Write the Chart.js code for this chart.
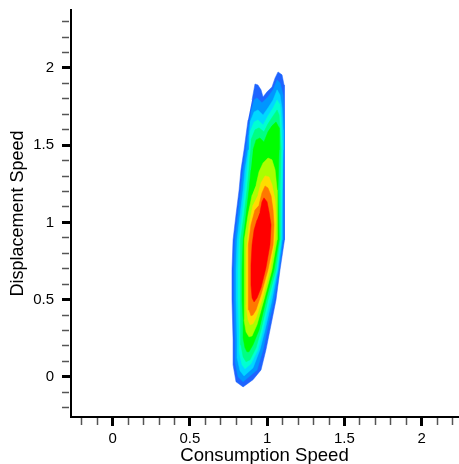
<!DOCTYPE html>
<html>
<head>
<meta charset="utf-8">
<script src="https://cdn.jsdelivr.net/npm/chart.js@4.4.1/dist/chart.umd.min.js"></script>
<style>
  html, body { margin: 0; padding: 0; background: #fff; }
  canvas { display: block; }
</style>
</head>
<body>
<canvas id="grafico" width="459" height="464"></canvas>
<script>
// contour levels of the joint pdf, outermost first
// x = consumption speed, y = displacement speed
var level1X = [0.902, 0.921, 0.940, 0.960, 0.973, 0.999, 1.031, 1.051, 1.070, 1.096, 1.109, 1.115, 1.115, 1.109, 1.109, 1.083, 1.057, 1.018, 0.992, 0.960, 0.908, 0.844, 0.798, 0.779, 0.779, 0.772, 0.772, 0.779, 0.798, 0.818, 0.830, 0.850, 0.876];
var level1Y = [1.793, 1.896, 1.890, 1.858, 1.812, 1.845, 1.877, 1.935, 1.974, 1.955, 1.890, 1.728, 1.469, 1.210, 0.887, 0.693, 0.498, 0.304, 0.175, 0.045, -0.019, -0.065, -0.032, 0.078, 0.239, 0.498, 0.693, 0.887, 1.049, 1.210, 1.340, 1.469, 1.663];

var level2X = [0.895, 0.915, 0.934, 0.966, 1.005, 1.038, 1.064, 1.083, 1.103, 1.109, 1.109, 1.103, 1.103, 1.077, 1.044, 0.999, 0.973, 0.934, 0.844, 0.811, 0.792, 0.792, 0.785, 0.785, 0.792, 0.811, 0.830, 0.844, 0.863, 0.882];
var level2Y = [1.715, 1.793, 1.806, 1.774, 1.812, 1.858, 1.922, 1.903, 1.825, 1.663, 1.469, 1.210, 0.887, 0.693, 0.498, 0.304, 0.175, 0.045, -0.032, 0.000, 0.097, 0.239, 0.498, 0.693, 0.887, 1.049, 1.210, 1.340, 1.469, 1.631];

var level3X = [0.889, 0.915, 0.940, 0.973, 1.005, 1.038, 1.064, 1.083, 1.096, 1.103, 1.103, 1.096, 1.096, 1.070, 1.031, 0.986, 0.953, 0.908, 0.850, 0.824, 0.805, 0.805, 0.798, 0.798, 0.805, 0.824, 0.844, 0.856, 0.876, 0.882];
var level3Y = [1.650, 1.715, 1.728, 1.696, 1.741, 1.793, 1.858, 1.825, 1.741, 1.599, 1.469, 1.210, 0.887, 0.693, 0.498, 0.304, 0.175, 0.058, 0.006, 0.039, 0.123, 0.239, 0.498, 0.693, 0.887, 1.049, 1.210, 1.340, 1.469, 1.566];

var level4X = [0.889, 0.915, 0.940, 0.973, 1.005, 1.038, 1.064, 1.083, 1.090, 1.096, 1.096, 1.090, 1.064, 1.018, 0.973, 0.940, 0.895, 0.856, 0.837, 0.818, 0.818, 0.811, 0.811, 0.818, 0.837, 0.856, 0.869, 0.882];
var level4Y = [1.586, 1.650, 1.663, 1.631, 1.689, 1.741, 1.793, 1.761, 1.677, 1.534, 1.210, 0.887, 0.693, 0.498, 0.304, 0.175, 0.084, 0.052, 0.078, 0.162, 0.304, 0.498, 0.693, 0.887, 1.049, 1.210, 1.340, 1.469];

var level5X = [0.895, 0.921, 0.947, 0.979, 1.005, 1.038, 1.064, 1.077, 1.083, 1.090, 1.083, 1.083, 1.057, 1.005, 0.960, 0.928, 0.889, 0.863, 0.844, 0.830, 0.830, 0.824, 0.824, 0.830, 0.850, 0.869, 0.882, 0.889];
var level5Y = [1.534, 1.599, 1.612, 1.586, 1.638, 1.689, 1.728, 1.696, 1.612, 1.469, 1.210, 0.887, 0.693, 0.498, 0.304, 0.188, 0.110, 0.097, 0.129, 0.207, 0.304, 0.498, 0.693, 0.887, 1.049, 1.210, 1.340, 1.437];

var level6X = [0.908, 0.928, 0.953, 0.979, 1.005, 1.031, 1.057, 1.077, 1.077, 1.070, 1.077, 1.044, 0.992, 0.947, 0.908, 0.882, 0.869, 0.856, 0.844, 0.844, 0.837, 0.837, 0.844, 0.863, 0.882, 0.895];
var level6Y = [1.469, 1.534, 1.547, 1.521, 1.586, 1.625, 1.650, 1.612, 1.469, 1.210, 0.887, 0.693, 0.498, 0.304, 0.207, 0.162, 0.162, 0.188, 0.252, 0.369, 0.498, 0.693, 0.887, 1.049, 1.210, 1.340];

var level7X = [0.928, 0.947, 0.973, 1.005, 1.031, 1.051, 1.064, 1.064, 1.064, 1.031, 0.979, 0.934, 0.902, 0.882, 0.863, 0.850, 0.850, 0.850, 0.856, 0.876, 0.902];
var level7Y = [1.243, 1.327, 1.385, 1.417, 1.405, 1.340, 1.210, 1.049, 0.887, 0.693, 0.498, 0.337, 0.265, 0.259, 0.291, 0.369, 0.498, 0.693, 0.887, 1.049, 1.178];

var level8X = [0.940, 0.960, 0.986, 1.012, 1.031, 1.051, 1.057, 1.051, 1.018, 0.966, 0.928, 0.908, 0.889, 0.876, 0.863, 0.863, 0.869, 0.882, 0.908];
var level8Y = [1.178, 1.256, 1.301, 1.294, 1.243, 1.146, 1.016, 0.887, 0.693, 0.498, 0.382, 0.343, 0.337, 0.369, 0.466, 0.628, 0.822, 0.984, 1.113];

var level9X = [0.947, 0.966, 0.986, 1.005, 1.025, 1.038, 1.044, 1.038, 1.005, 0.960, 0.928, 0.908, 0.895, 0.882, 0.876, 0.876, 0.882, 0.895, 0.921];
var level9Y = [1.113, 1.191, 1.236, 1.223, 1.172, 1.081, 0.984, 0.855, 0.693, 0.531, 0.434, 0.401, 0.395, 0.434, 0.531, 0.693, 0.855, 0.984, 1.081];

var level10X = [0.953, 0.966, 0.979, 0.999, 1.012, 1.025, 1.018, 0.992, 0.960, 0.934, 0.915, 0.902, 0.895, 0.895, 0.902, 0.915, 0.934];
var level10Y = [1.068, 1.133, 1.159, 1.133, 1.068, 0.984, 0.855, 0.706, 0.576, 0.511, 0.485, 0.511, 0.595, 0.725, 0.855, 0.951, 1.016];

var levelColors = ['#1e64ff', '#0096ff', '#00d7ff', '#00ffd2', '#00ff82', '#00ff00', '#aaff00', '#ffdc00', '#ff7800', '#ff0000'];

var xTicks = [-0.2, -0.1, 0, 0.1, 0.2, 0.3, 0.4, 0.5, 0.6, 0.7, 0.8, 0.9, 1, 1.1, 1.2, 1.3, 1.4, 1.5, 1.6, 1.7, 1.8, 1.9, 2, 2.1, 2.2];
var yTicks = [-0.2, -0.1, 0, 0.1, 0.2, 0.3, 0.4, 0.5, 0.6, 0.7, 0.8, 0.9, 1, 1.1, 1.2, 1.3, 1.4, 1.5, 1.6, 1.7, 1.8, 1.9, 2, 2.1, 2.2, 2.3];
var majorLabels = ['0', '0.5', '1', '1.5', '2'];

var levelsX = [level1X, level2X, level3X, level4X, level5X, level6X, level7X, level8X, level9X, level10X];
var levelsY = [level1Y, level2Y, level3Y, level4Y, level5Y, level6Y, level7Y, level8Y, level9Y, level10Y];

function esMayor(v) {
    return majorLabels.indexOf(String(Math.round(v * 10) / 10)) >= 0;
}

var datasets = levelsX.map(function (xs, i) {
    return {
        data: xs.map(function (x, j) { return {x: x, y: levelsY[i][j]}; }),
        showLine: true,
        fill: 'shape',
        backgroundColor: levelColors[i],
        borderColor: levelColors[i],
        borderWidth: 0.5,
        pointRadius: 0,
        tension: 0,
        order: levelsX.length - i
    };
});

function ejeComun(tickList) {
    return {
        type: 'linear',
        afterBuildTicks: function (axis) {
            axis.ticks = tickList.map(function (v) { return {value: v}; });
        },
        ticks: {
            autoSkip: false,
            maxRotation: 0,
            color: '#000',
            font: {family: 'Liberation Sans, Arial, sans-serif', size: 15},
            callback: function (v) {
                return esMayor(v) ? String(Math.round(v * 10) / 10) : '';
            }
        },
        grid: {
            drawOnChartArea: false,
            tickLength: 9,
            tickColor: function (c) { return esMayor(c.tick.value) ? '#000' : '#555'; },
            tickWidth: function (c) { return esMayor(c.tick.value) ? 3 : 1.5; },
            tickBorderDash: function (c) { return esMayor(c.tick.value) ? [] : [7, 20]; }
        },
        border: {display: true, color: '#000', width: 2}
    };
}

var xAxis = ejeComun(xTicks);
xAxis.min = -0.27;
xAxis.max = 2.235;
xAxis.ticks.padding = 4;
xAxis.afterFit = function (scale) {
    scale.height = 47;
    scale.paddingLeft = 0;
    scale.paddingRight = 0;
};
xAxis.title = {
    display: true,
    text: 'Consumption Speed',
    color: '#000',
    font: {family: 'Liberation Sans, Arial, sans-serif', size: 18.6, lineHeight: 1},
    padding: {top: 0, bottom: -1}
};

var yAxis = ejeComun(yTicks);
yAxis.min = -0.26;
yAxis.max = 2.375;
yAxis.ticks.padding = 8;
yAxis.afterFit = function (scale) {
    scale.width = 71;
    scale.paddingTop = 0;
    scale.paddingBottom = 0;
};
yAxis.title = {
    display: true,
    text: 'Displacement Speed',
    color: '#000',
    font: {family: 'Liberation Sans, Arial, sans-serif', size: 18, lineHeight: 1},
    padding: {top: 9, bottom: 0}
};

var ctx = document.getElementById('grafico').getContext('2d');
var chart = new Chart(ctx, {
    type: 'scatter',
    data: {datasets: datasets},
    options: {
        responsive: false,
        animation: false,
        layout: {padding: {top: 10, right: 1, left: 0, bottom: 0}},
        scales: {x: xAxis, y: yAxis},
        plugins: {
            legend: {display: false},
            tooltip: {enabled: false}
        }
    }
});
</script>
</body>
</html>
